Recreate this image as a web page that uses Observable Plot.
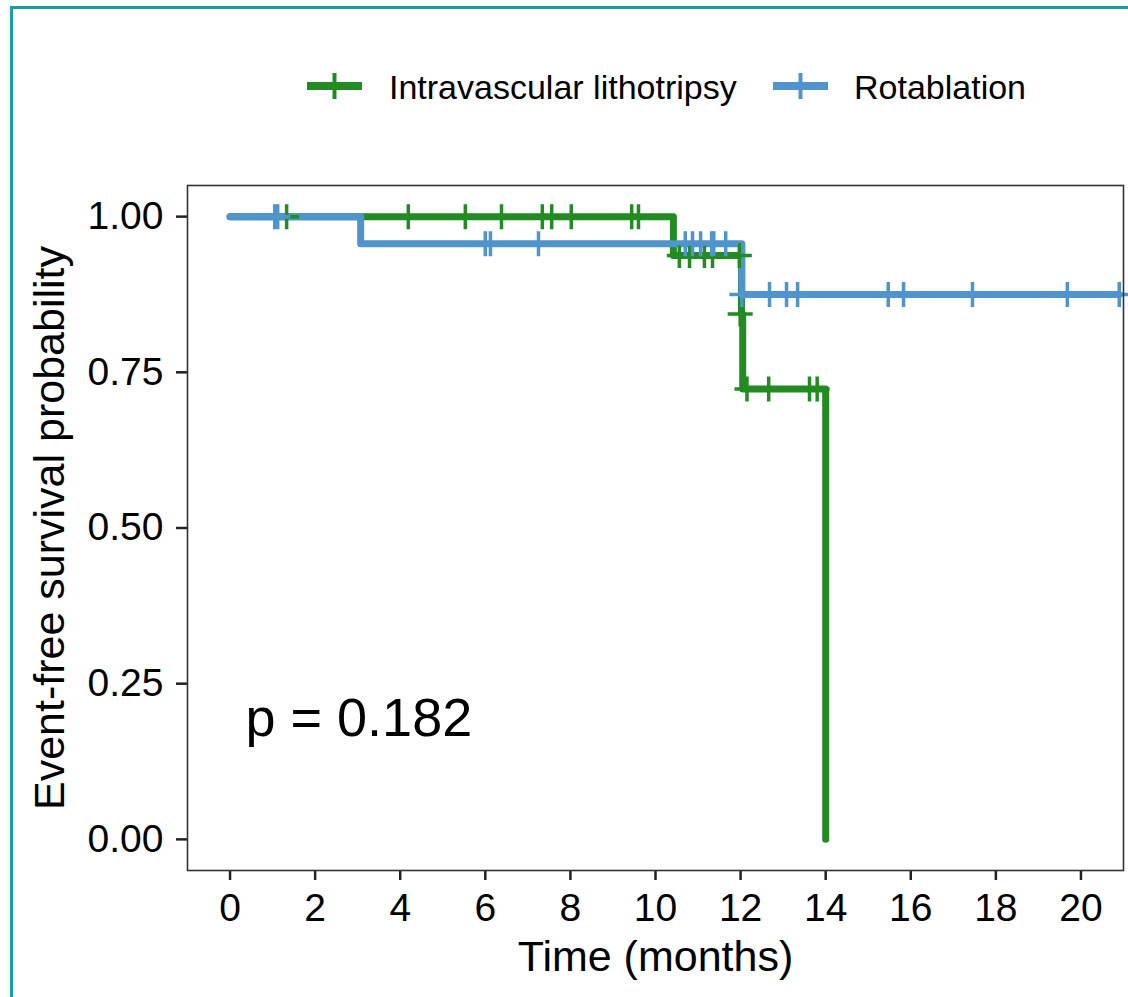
<!DOCTYPE html>
<html><head><meta charset="utf-8">
<script src="https://cdn.jsdelivr.net/npm/d3@7"></script>
<script src="https://cdn.jsdelivr.net/npm/@observablehq/plot@0.6"></script>
<style>
body{margin:0;background:#fff;font-family:"Liberation Sans",Arial,sans-serif;}
#wrap{position:relative;width:1128px;height:997px;overflow:hidden;}
#legend{height:130px;}
#frame{position:absolute;left:10px;top:6px;width:1200px;height:1100px;border-left:3px solid #14a0a3;border-top:3px solid #14a0a3;pointer-events:none;}
</style></head><body>
<div id="wrap"><div id="legend"></div><div id="chart"></div><div id="frame"></div></div>
<script>
// ---- data ----
const groups = ["Intravascular lithotripsy", "Rotablation"];
const colors = ["#228B22", "#4F94CD"];
const xTicks = [0, 2, 4, 6, 8, 10, 12, 14, 16, 18, 20];
const yTicks = [0, 0.25, 0.5, 0.75, 1];
const pValueText = "p = 0.182";
const xTitle = "Time (months)";
const yTitle = "Event-free survival probability";

// Kaplan–Meier step points (time, survival)
const ivlTime = [0, 10.42, 12.02, 12.05, 14.0];
const ivlSurv = [1, 0.9375, 0.84375, 0.7232, 0];
const rotaTime = [0, 3.07, 12.03, 20.90];
const rotaSurv = [1, 0.9565, 0.875, 0.875];

// censoring marks (time, survival)
const ivlCensorTime = [1.33, 4.19, 5.53, 6.38, 7.34, 7.56, 8.02, 9.44, 9.60, 10.56, 10.80, 11.15, 11.34, 11.97, 11.99, 12.15, 12.66, 13.62, 13.80];
const ivlCensorSurv = [1, 1, 1, 1, 1, 1, 1, 1, 1, 0.9375, 0.9375, 0.9375, 0.9375, 0.9375, 0.84375, 0.7232, 0.7232, 0.7232, 0.7232];
const rotaCensorTime = [1.05, 1.12, 6.00, 6.12, 7.25, 10.70, 10.87, 11.06, 11.32, 11.37, 11.65, 12.03, 12.68, 13.08, 13.34, 15.47, 15.83, 17.45, 19.68, 20.90];
const rotaCensorSurv = [1, 1, 0.9565, 0.9565, 0.9565, 0.9565, 0.9565, 0.9565, 0.9565, 0.9565, 0.9565, 0.875, 0.875, 0.875, 0.875, 0.875, 0.875, 0.875, 0.875, 0.875];

// ---- build tables ----
const steps = [
  ...ivlTime.map((t, i) => ({group: groups[0], time: t, surv: ivlSurv[i]})),
  ...rotaTime.map((t, i) => ({group: groups[1], time: t, surv: rotaSurv[i]}))
];
const censors = [
  ...ivlCensorTime.map((t, i) => ({group: groups[0], time: t, surv: ivlCensorSurv[i]})),
  ...rotaCensorTime.map((t, i) => ({group: groups[1], time: t, surv: rotaCensorSurv[i]}))
];

const font = '"Liberation Sans", Arial, sans-serif';

// ---- legend ----
const leg = d3.select("#legend").append("svg").attr("width", 1128).attr("height", 130)
  .style("display", "block").style("font-family", font);
const legItems = [{key: 307, text: 389}, {key: 773, text: 854}];
groups.forEach((g, i) => {
  const k = legItems[i];
  leg.append("line").attr("x1", k.key).attr("x2", k.key + 55).attr("y1", 86).attr("y2", 86)
    .attr("stroke", colors[i]).attr("stroke-width", 8);
  leg.append("line").attr("x1", k.key + 27.5).attr("x2", k.key + 27.5).attr("y1", 73).attr("y2", 99)
    .attr("stroke", colors[i]).attr("stroke-width", 4);
  leg.append("text").attr("x", k.text).attr("y", 99).attr("font-size", 34).attr("fill", "black").text(g);
});

// ---- chart ----
const chart = Plot.plot({
  width: 1128,
  height: 867,
  marginLeft: 187,
  marginRight: 5,
  marginTop: 55,
  marginBottom: 127,
  style: {fontFamily: font, background: "transparent", color: "black", overflow: "visible"},
  x: {domain: [-1, 21]},
  y: {domain: [-0.05, 1.05]},
  color: {domain: groups, range: colors},
  marks: [
    Plot.axisY({ticks: yTicks, tickFormat: d3.format(".2f"), tickSize: 11, tickPadding: 13, fontSize: 39, stroke: "#222", fill: "black", strokeWidth: 2.5, label: null}),
    Plot.axisX({ticks: xTicks, tickFormat: d3.format("d"), tickSize: 10, tickPadding: 13, fontSize: 39, stroke: "#222", fill: "black", strokeWidth: 2.5, label: null}),
    Plot.line(steps, {x: "time", y: "surv", z: "group", stroke: "group", curve: "step-after", strokeWidth: 7, strokeLinejoin: "round"}),
    Plot.dot(censors, {x: "time", y: "surv", stroke: "group", symbol: "plus", r: 8.1, strokeWidth: 3.5}),
    Plot.frame({stroke: "#333", strokeWidth: 1.6}),
    Plot.text([xTitle], {frameAnchor: "bottom", lineAnchor: "bottom", dy: 100, fontSize: 43, fill: "black"}),
    Plot.text([yTitle], {frameAnchor: "left", rotate: -90, dx: -124, lineAnchor: "bottom", textAnchor: "middle", fontSize: 43, fill: "black"}),
    Plot.text([pValueText], {frameAnchor: "bottom-left", textAnchor: "start", lineAnchor: "bottom", dx: 58, dy: -135, fontSize: 54, fill: "black"})
  ]
});
chart.style.display = "block";
document.getElementById("chart").appendChild(chart);
</script>
</body></html>
